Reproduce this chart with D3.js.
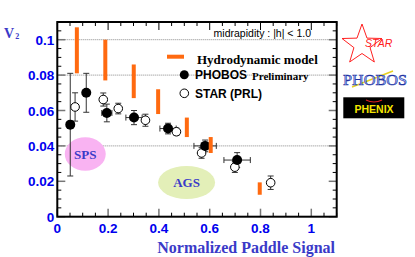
<!DOCTYPE html>
<html>
<head>
<meta charset="utf-8">
<script src="https://cdn.jsdelivr.net/npm/d3@7"></script>
<style>
  body { margin: 0; background: #fff; }
  svg { display: block; }
</style>
</head>
<body>
<svg id="drawing_region"></svg>
<script>
// hydrodynamic model bands (x, low, high)
const hydroX = [0.077, 0.189, 0.301, 0.397, 0.510, 0.604, 0.797];
const hydroLo = [0.081, 0.077, 0.067, 0.058, 0.045, 0.036, 0.0124];
const hydroHi = [0.107, 0.100, 0.086, 0.072, 0.056, 0.045, 0.0194];

// PHOBOS preliminary (filled)
const phobosX = [0.051, 0.114, 0.195, 0.302, 0.436, 0.582, 0.708];
const phobosY = [0.052, 0.070, 0.0586, 0.056, 0.0498, 0.040, 0.032];
const phobosErrY = [0.029, 0.011, 0.005, 0.004, 0.003, 0.0033, 0.0042];
const phobosErrX = [0, 0, 0.02, 0.032, 0.032, 0.044, 0.052];

// STAR (PRL) (open)
const starX = [0.070, 0.181, 0.240, 0.347, 0.469, 0.568, 0.699, 0.840];
const starY = [0.062, 0.0662, 0.0611, 0.0545, 0.048, 0.036, 0.028, 0.0192];
const starErr = [0.008, 0.0037, 0.003, 0.0034, 0.002, 0.003, 0.003, 0.0038];

const xTicks = [0, 0.2, 0.4, 0.6, 0.8, 1];
const yTicks = [0, 0.02, 0.04, 0.06, 0.08, 0.1];
const yTickLabels = ['0', '0.02', '0.04', '0.06', '0.08', '0.1'];
const gridLines = [0.04, 0.08, 0.1];

const W = 415, H = 257;
const margin = { top: 22, right: 78.3, bottom: 40.3, left: 57.3 };
const iw = W - margin.left - margin.right;
const ih = H - margin.top - margin.bottom;

const svg = d3.select('#drawing_region').attr('width', W).attr('height', H);
const chart = svg.append('g').attr('transform', `translate(${margin.left},${margin.top})`);

const xscale = d3.scaleLinear().domain([0, 1.1]).range([0, iw]);
const yscale = d3.scaleLinear().domain([0, 0.11]).range([ih, 0]);

const blue = '#0000ee';
const titleBlue = '#3a3ac8';

// grid lines
chart.selectAll('.grid').data(gridLines).enter().append('line')
  .attr('x1', 0).attr('x2', iw)
  .attr('y1', d => yscale(d)).attr('y2', d => yscale(d))
  .attr('stroke', '#888').attr('stroke-width', 1)
  .attr('stroke-dasharray', '1,1');

// SPS / AGS regions
const regions = [
  { name: 'SPS', cx: 0.110, cy: 0.0354, rx: 20.5, ry: 16.7, fill: '#f9b3f2' },
  { name: 'AGS', cx: 0.509, cy: 0.0193, rx: 28.5, ry: 16.5, fill: '#e3efb8' }
];
regions.forEach(r => {
  chart.append('ellipse')
    .attr('cx', xscale(r.cx)).attr('cy', yscale(r.cy))
    .attr('rx', r.rx).attr('ry', r.ry).attr('fill', r.fill);
  chart.append('text')
    .attr('x', xscale(r.cx)).attr('y', yscale(r.cy) + 4.5)
    .attr('text-anchor', 'middle')
    .attr('font-family', 'Liberation Serif, serif').attr('font-weight', 'bold')
    .attr('font-size', '13px').attr('fill', titleBlue)
    .text(r.name);
});

// ticks (all four sides)
const xMinor = d3.range(0, 1.1001, 0.05);
const yMinor = d3.range(0, 0.11001, 0.005);
const isMajor = (v, step) => Math.abs(v / step - Math.round(v / step)) < 1e-6;

xMinor.forEach(v => {
  const major = isMajor(v, 0.2);
  const len = major ? 8 : 4;
  const x = xscale(v);
  chart.append('line').attr('x1', x).attr('x2', x).attr('y1', ih).attr('y2', ih - len)
    .attr('stroke', major ? '#777' : '#000').attr('stroke-width', major ? 1.5 : 1);
  chart.append('line').attr('x1', x).attr('x2', x).attr('y1', 0).attr('y2', len)
    .attr('stroke', '#000').attr('stroke-width', 1);
});
yMinor.forEach(v => {
  const major = isMajor(v, 0.02);
  const len = major ? 8 : 4;
  const y = yscale(v);
  chart.append('line').attr('x1', 0).attr('x2', len).attr('y1', y).attr('y2', y)
    .attr('stroke', major ? '#777' : '#000').attr('stroke-width', major ? 1.5 : 1);
  chart.append('line').attr('x1', iw).attr('x2', iw - len).attr('y1', y).attr('y2', y)
    .attr('stroke', major ? '#777' : '#000').attr('stroke-width', major ? 1.5 : 1);
});

// frame
chart.append('rect').attr('x', 0).attr('y', 0).attr('width', iw).attr('height', ih)
  .attr('fill', 'none').attr('stroke', '#000').attr('stroke-width', 2);

// tick labels
chart.selectAll('.xlab').data(xTicks).enter().append('text')
  .attr('x', d => xscale(d)).attr('y', ih + 16)
  .attr('text-anchor', 'middle')
  .attr('font-family', 'Liberation Sans, Arial, sans-serif').attr('font-weight', 'bold')
  .attr('font-size', '13.5px').attr('fill', blue)
  .text(d => d);
chart.selectAll('.ylab').data(yTicks).enter().append('text')
  .attr('x', -3).attr('y', d => yscale(d) + 5)
  .attr('text-anchor', 'end')
  .attr('font-family', 'Liberation Sans, Arial, sans-serif').attr('font-weight', 'bold')
  .attr('font-size', '13.5px').attr('fill', blue)
  .text((d, i) => yTickLabels[i]);

// axis titles
svg.append('text').attr('x', 335).attr('y', 252.5)
  .attr('text-anchor', 'end')
  .attr('font-family', 'Liberation Serif, serif').attr('font-weight', 'bold')
  .attr('font-size', '16px').attr('fill', titleBlue)
  .text('Normalized Paddle Signal');
const v2 = svg.append('text').attr('x', 4).attr('y', 38)
  .attr('font-family', 'Liberation Serif, serif').attr('font-weight', 'bold')
  .attr('font-size', '14px').attr('fill', titleBlue);
v2.append('tspan').text('V');
v2.append('tspan').attr('font-size', '8px').attr('dx', 1).attr('dy', 1).text('2');

// PHOBOS error bars
const phobos = phobosX.map((x, i) => ({ x, y: phobosY[i], ey: phobosErrY[i], ex: phobosErrX[i] }));
const star = starX.map((x, i) => ({ x, y: starY[i], ey: starErr[i] }));
const cap = 3;

function errorBars(data, color) {
  data.forEach(d => {
    const cx = xscale(d.x), cy = yscale(d.y);
    if (d.ey > 0) {
      const y1 = yscale(d.y + d.ey), y2 = yscale(d.y - d.ey);
      chart.append('line').attr('x1', cx).attr('x2', cx).attr('y1', y1).attr('y2', y2)
        .attr('stroke', color).attr('stroke-width', 1);
      [y1, y2].forEach(yy => chart.append('line')
        .attr('x1', cx - cap).attr('x2', cx + cap).attr('y1', yy).attr('y2', yy)
        .attr('stroke', color).attr('stroke-width', 1));
    }
    if (d.ex > 0) {
      const x1 = xscale(d.x - d.ex), x2 = xscale(d.x + d.ex);
      chart.append('line').attr('x1', x1).attr('x2', x2).attr('y1', cy).attr('y2', cy)
        .attr('stroke', color).attr('stroke-width', 1);
      [x1, x2].forEach(xx => chart.append('line')
        .attr('x1', xx).attr('x2', xx).attr('y1', cy - cap).attr('y2', cy + cap)
        .attr('stroke', color).attr('stroke-width', 1));
    }
  });
}
errorBars(star, '#333');
errorBars(phobos, '#333');

chart.selectAll('.star').data(star).enter().append('circle')
  .attr('cx', d => xscale(d.x)).attr('cy', d => yscale(d.y)).attr('r', 4.3)
  .attr('fill', '#fff').attr('stroke', '#000').attr('stroke-width', 1);
chart.selectAll('.phobos').data(phobos).enter().append('circle')
  .attr('cx', d => xscale(d.x)).attr('cy', d => yscale(d.y)).attr('r', 5)
  .attr('fill', '#000');

// hydro bands
const orange = '#ff6a10';
chart.selectAll('.hydro').data(hydroX).enter().append('rect')
  .attr('x', d => xscale(d) - 2).attr('width', 4)
  .attr('y', (d, i) => yscale(hydroHi[i]))
  .attr('height', (d, i) => yscale(hydroLo[i]) - yscale(hydroHi[i]))
  .attr('fill', orange);

// legend
svg.append('text').attr('x', 311).attr('y', 37)
  .attr('text-anchor', 'end')
  .attr('font-family', 'Liberation Sans, Arial, sans-serif')
  .attr('font-size', '10.5px').attr('fill', '#000')
  .text('midrapidity : |h| < 1.0');
svg.append('rect').attr('x', 167).attr('y', 54.7).attr('width', 17).attr('height', 4).attr('fill', orange);
svg.append('text').attr('x', 197).attr('y', 63.5)
  .attr('font-family', 'Liberation Serif, serif').attr('font-weight', 'bold')
  .attr('font-size', '13px').attr('fill', '#000')
  .text('Hydrodynamic model');
svg.append('circle').attr('cx', 184.3).attr('cy', 74.7).attr('r', 4.5).attr('fill', '#000');
svg.append('text').attr('x', 195).attr('y', 78.5)
  .attr('font-family', 'Liberation Sans, Arial, sans-serif').attr('font-weight', 'bold')
  .attr('font-size', '12px').attr('fill', '#000')
  .text('PHOBOS');
svg.append('text').attr('x', 252).attr('y', 79.5)
  .attr('font-family', 'Liberation Serif, serif').attr('font-weight', 'bold')
  .attr('font-size', '11px').attr('fill', '#000')
  .text('Preliminary');
svg.append('circle').attr('cx', 184.3).attr('cy', 93.3).attr('r', 4.3)
  .attr('fill', '#fff').attr('stroke', '#000').attr('stroke-width', 1);
svg.append('text').attr('x', 195).attr('y', 97.5)
  .attr('font-family', 'Liberation Sans, Arial, sans-serif').attr('font-weight', 'bold')
  .attr('font-size', '12px').attr('fill', '#000')
  .text('STAR (PRL)');

// experiment logos
const starPts = d3.range(10).map(i => {
  const a = -Math.PI / 2 + i * Math.PI / 5;
  const r = i % 2 === 0 ? 21 : 8.5;
  return [362 + r * Math.cos(a), 45 + r * Math.sin(a)];
});
svg.append('polygon').attr('points', starPts.map(p => p.join(',')).join(' '))
  .attr('fill', 'none').attr('stroke', '#ff2020').attr('stroke-width', 1);
svg.append('text').attr('x', 365).attr('y', 47)
  .attr('font-family', 'Liberation Sans, Arial, sans-serif').attr('font-style', 'italic')
  .attr('font-size', '10.5px').attr('fill', '#ff2020')
  .text('STAR');

svg.append('line').attr('x1', 352).attr('y1', 87).attr('x2', 393).attr('y2', 71)
  .attr('stroke', '#e8d020').attr('stroke-width', 1.5);
svg.append('text').attr('x', 343).attr('y', 85)
  .attr('font-family', 'Liberation Serif, serif')
  .attr('font-size', '15px').attr('fill', '#a8c0ff').attr('stroke', '#2030a0').attr('stroke-width', 0.6)
  .attr('textLength', 64).attr('lengthAdjust', 'spacingAndGlyphs')
  .text('PHOBOS');

svg.append('rect').attr('x', 343.3).attr('y', 97.3).attr('width', 61).attr('height', 21).attr('fill', '#000');
svg.append('path').attr('d', 'M366,100 Q374,104 382,100')
  .attr('fill', 'none').attr('stroke', '#e02020').attr('stroke-width', 1.2);
svg.append('text').attr('x', 374).attr('y', 112.5)
  .attr('text-anchor', 'middle')
  .attr('font-family', 'Liberation Sans, Arial, sans-serif').attr('font-weight', 'bold')
  .attr('font-size', '10.5px').attr('fill', '#f5e600')
  .text('PHENIX');
</script>
</body>
</html>
